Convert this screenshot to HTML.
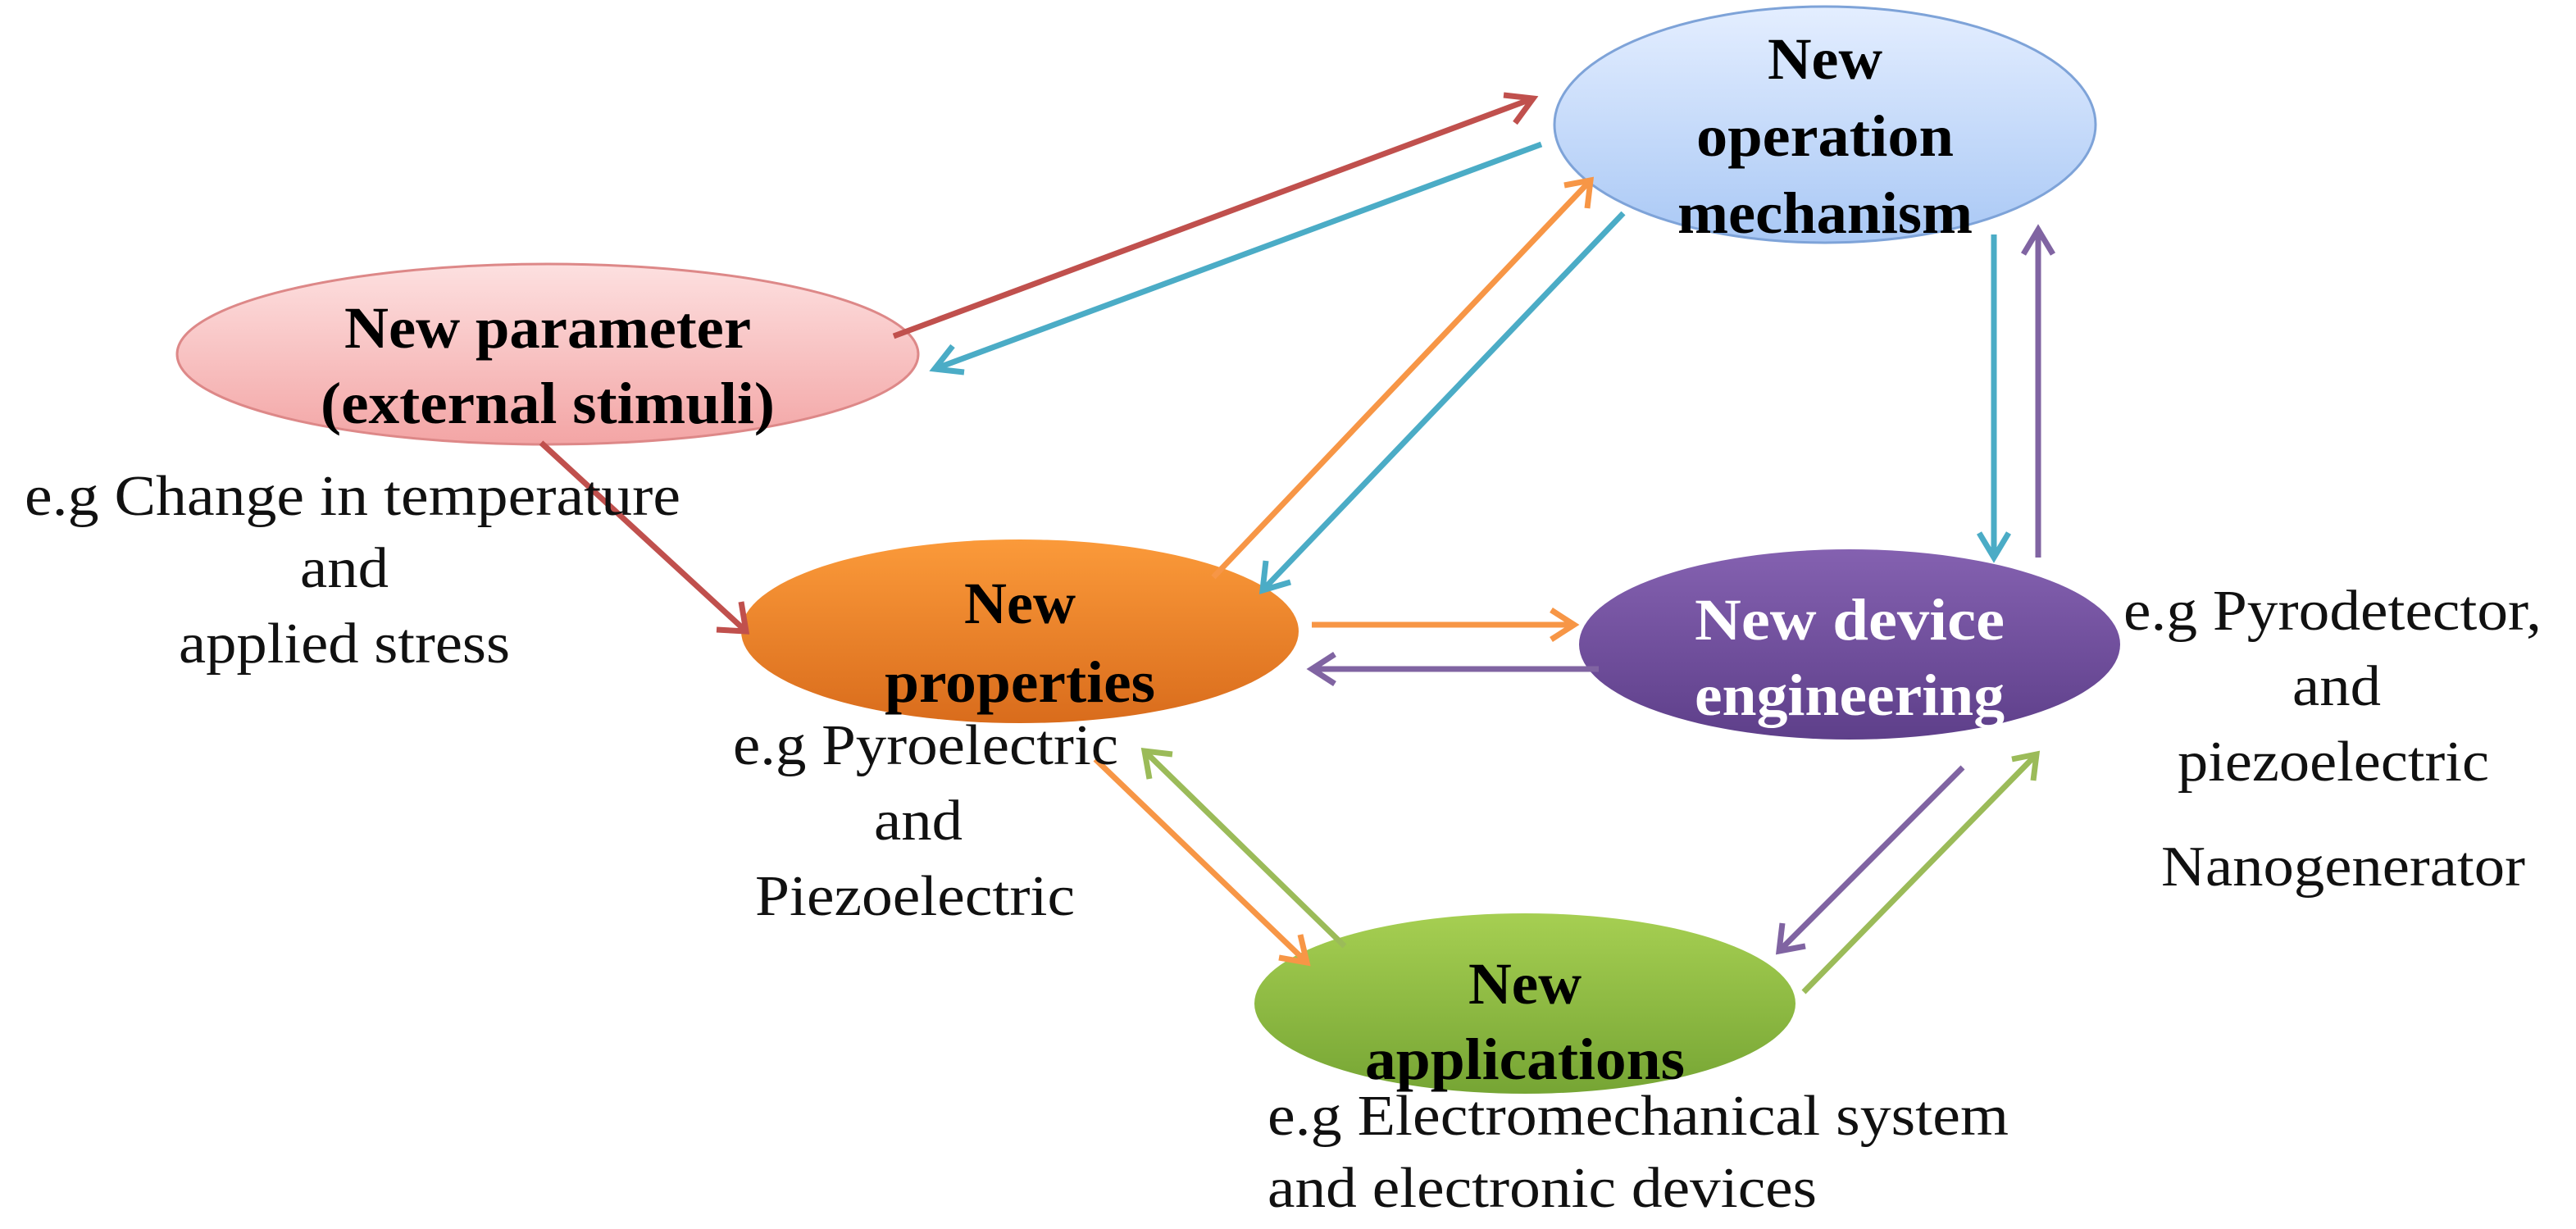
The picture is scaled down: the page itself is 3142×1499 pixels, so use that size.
<!DOCTYPE html>
<html><head><meta charset="utf-8"><style>
html,body{margin:0;padding:0;background:#fff;}
svg{display:block;}
text{font-family:"Liberation Serif",serif;}
.b{font-weight:bold;font-size:36px;fill:#000;}
.l{font-size:35px;fill:#111;}
</style></head><body>
<svg width="3142" height="1499" viewBox="0 0 1571 749.5" xmlns="http://www.w3.org/2000/svg">
<defs>
<linearGradient id="gb" x1="0" y1="0" x2="0" y2="1"><stop offset="0" stop-color="#e4eeff"/><stop offset="1" stop-color="#a9c8f5"/></linearGradient>
<linearGradient id="gp" x1="0" y1="0" x2="0" y2="1"><stop offset="0" stop-color="#fde0e0"/><stop offset="1" stop-color="#f3a5a5"/></linearGradient>
<linearGradient id="go" x1="0" y1="0" x2="0" y2="1"><stop offset="0" stop-color="#fb9a3a"/><stop offset="1" stop-color="#d96c1c"/></linearGradient>
<linearGradient id="gv" x1="0" y1="0" x2="0" y2="1"><stop offset="0" stop-color="#8461b0"/><stop offset="1" stop-color="#5e3f8a"/></linearGradient>
<linearGradient id="gg" x1="0" y1="0" x2="0" y2="1"><stop offset="0" stop-color="#a6cf52"/><stop offset="1" stop-color="#76a534"/></linearGradient>
</defs>
<ellipse cx="1113" cy="76" rx="165" ry="72" fill="url(#gb)" stroke="#7ea3d8" stroke-width="1.5"/>
<ellipse cx="334" cy="216" rx="226" ry="55" fill="url(#gp)" stroke="#d88" stroke-width="1.5"/>
<ellipse cx="622" cy="385" rx="170" ry="56" fill="url(#go)"/>
<ellipse cx="1128" cy="393" rx="165" ry="58" fill="url(#gv)"/>
<ellipse cx="930" cy="612" rx="165" ry="55" fill="url(#gg)"/>
<g stroke-width="3.5" fill="none">
<g stroke="#c0504d">
<line x1="545" y1="205" x2="935" y2="60"/><path d="M917,58 L935,60 L924,75"/>
<line x1="330" y1="270" x2="455" y2="385"/><path d="M437,384 L455,385 L452,367"/>
</g>
<g stroke="#4bacc6">
<line x1="940" y1="88" x2="570" y2="225"/><path d="M588,227 L570,225 L581,211"/>
<line x1="990" y1="130" x2="770" y2="360"/><path d="M772,342 L770,360 L787,355"/>
<line x1="1216" y1="143" x2="1216" y2="340"/><path d="M1207,325 L1216,340 L1225,325"/>
</g>
<g stroke="#f79646">
<line x1="740" y1="352" x2="970" y2="110"/><path d="M954,113 L970,110 L968,127"/>
<line x1="800" y1="381" x2="960" y2="381"/><path d="M946,372 L960,381 L946,390"/>
<line x1="668" y1="463" x2="797" y2="587"/><path d="M780,584 L797,587 L793,570"/>
</g>
<g stroke="#8064a2">
<line x1="1243" y1="340" x2="1243" y2="140"/><path d="M1234,155 L1243,140 L1252,155"/>
<line x1="975" y1="408" x2="800" y2="408"/><path d="M814,399 L800,408 L814,417"/>
<line x1="1197" y1="468" x2="1085" y2="580"/><path d="M1087,563 L1085,580 L1101,577"/>
</g>
<g stroke="#9bbb59">
<line x1="820" y1="577" x2="698" y2="458"/><path d="M715,460 L698,458 L701,475"/>
<line x1="1100" y1="605" x2="1242" y2="460"/><path d="M1227,463 L1242,460 L1240,476"/>
</g>
</g>
<g class="b" text-anchor="middle" lengthAdjust="spacingAndGlyphs">
<text x="1113" y="48" textLength="70" lengthAdjust="spacingAndGlyphs">New</text>
<text x="1113" y="95" textLength="157" lengthAdjust="spacingAndGlyphs">operation</text>
<text x="1113" y="142" textLength="180" lengthAdjust="spacingAndGlyphs">mechanism</text>
<text x="334" y="212" textLength="248" lengthAdjust="spacingAndGlyphs">New parameter</text>
<text x="334" y="258" textLength="277" lengthAdjust="spacingAndGlyphs">(external stimuli)</text>
<text x="622" y="380" textLength="68" lengthAdjust="spacingAndGlyphs">New</text>
<text x="622" y="428" textLength="165" lengthAdjust="spacingAndGlyphs">properties</text>
<text x="1128" y="390" fill="#fff" textLength="189" lengthAdjust="spacingAndGlyphs">New  device</text>
<text x="1128" y="436" fill="#fff" textLength="189" lengthAdjust="spacingAndGlyphs">engineering</text>
<text x="930" y="612" textLength="69" lengthAdjust="spacingAndGlyphs">New</text>
<text x="930" y="658" textLength="195" lengthAdjust="spacingAndGlyphs">applications</text>
</g>
<g class="l">
<text x="15" y="314" textLength="400" lengthAdjust="spacingAndGlyphs">e.g Change in temperature</text>
<text x="210" y="358" text-anchor="middle" textLength="54" lengthAdjust="spacingAndGlyphs">and</text>
<text x="210" y="404" text-anchor="middle" textLength="202" lengthAdjust="spacingAndGlyphs">applied  stress</text>
<text x="447" y="466" textLength="235" lengthAdjust="spacingAndGlyphs">e.g Pyroelectric</text>
<text x="560" y="512" text-anchor="middle" textLength="54" lengthAdjust="spacingAndGlyphs">and</text>
<text x="558" y="558" text-anchor="middle" textLength="195" lengthAdjust="spacingAndGlyphs">Piezoelectric</text>
<text x="1295" y="384" textLength="255" lengthAdjust="spacingAndGlyphs">e.g Pyrodetector,</text>
<text x="1425" y="430" text-anchor="middle" textLength="54" lengthAdjust="spacingAndGlyphs">and</text>
<text x="1423" y="476" text-anchor="middle" textLength="190" lengthAdjust="spacingAndGlyphs">piezoelectric</text>
<text x="1429" y="540" text-anchor="middle" textLength="222" lengthAdjust="spacingAndGlyphs">Nanogenerator</text>
<text x="773" y="692" textLength="452" lengthAdjust="spacingAndGlyphs">e.g Electromechanical  system</text>
<text x="773" y="736" textLength="335" lengthAdjust="spacingAndGlyphs">and electronic  devices</text>
</g>
</svg>
</body></html>
